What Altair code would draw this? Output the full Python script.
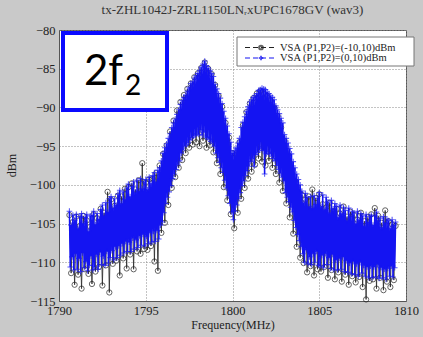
import altair as alt
import pandas as pd

# Frequency sweep grids (MHz)
FREQ_BLUE = [round(1790.6 + 0.05 * i, 2) for i in range(377)]
FREQ_BLACK = [round(1790.6 + 0.1 * i, 1) for i in range(189)]

# Series: VSA (P1,P2)=(0,10)dBm  (blue)
BLUE = [
    -103.4, -110.6, -105.2, -109.3, -103.9, -111.0, -104.6, -108.9,
    -103.8, -110.9, -105.6, -109.5, -104.1, -111.2, -103.7, -108.8, -105.0, -110.7,
    -104.2, -109.9, -103.8, -111.1, -106.0, -110.4, -104.0, -109.2, -103.9, -111.0,
    -103.4, -110.6, -105.1, -109.0, -103.7, -110.9, -104.4, -108.7, -103.2, -110.3,
    -102.6, -109.2, -104.0, -110.4, -102.3, -108.6, -103.5, -110.1, -101.8, -109.4,
    -101.5, -108.5, -103.0, -109.7, -101.8, -108.0, -102.6, -109.4, -101.2, -107.9,
    -100.7, -109.1, -102.4, -107.6, -100.9, -108.8, -101.9, -107.3, -100.4, -108.6,
    -99.9, -107.4, -101.5, -108.6, -100.2, -106.9, -99.6, -108.3, -101.0, -107.1,
    -99.4, -108.1, -100.8, -106.6, -99.2, -107.8, -100.5, -106.4, -99.6, -107.9,
    -99.3, -106.7, -100.6, -107.6, -99.0, -106.2, -99.8, -107.4, -98.8, -106.0,
    -98.4, -107.3, -99.6, -105.9, -98.1, -107.0, -97.8, -105.2, -96.9, -104.8,
    -95.9, -103.6, -95.2, -102.4, -94.7, -101.6, -94.0, -100.9, -93.4, -100.1,
    -92.6, -99.2, -92.0, -98.6, -91.5, -98.0, -90.9, -97.4, -90.3, -96.9,
    -89.6, -95.9, -89.1, -95.5, -88.7, -95.0, -88.4, -94.8, -87.9, -94.6,
    -87.4, -94.2, -86.9, -93.9, -86.7, -93.7, -86.2, -93.6, -85.9, -93.4,
    -85.6, -93.5, -85.2, -92.9, -84.8, -93.6, -84.4, -93.2, -84.0, -93.8,
    -84.6, -93.9, -84.9, -94.1, -85.2, -94.4, -85.6, -94.6, -86.0, -95.0,
    -87.0, -95.9, -87.6, -96.5, -88.2, -97.1, -88.8, -97.8, -89.5, -98.4,
    -90.5, -99.4, -91.4, -100.4, -92.4, -101.4, -93.4, -102.4, -94.5, -103.5,
    -95.9, -104.5, -95.6, -103.4, -95.2, -102.6, -94.6, -101.8, -94.0, -101.0,
    -92.6, -100.1, -91.9, -99.5, -91.2, -98.8, -90.5, -98.2, -89.9, -97.6,
    -89.3, -97.0, -89.0, -96.6, -88.7, -97.6, -88.5, -96.1, -88.2, -95.8,
    -87.8, -95.5, -87.7, -95.3, -87.5, -95.6, -87.6, -98.6, -87.7, -96.0,
    -88.0, -95.8, -88.2, -96.0, -88.5, -96.3, -88.7, -96.6, -89.0, -96.9,
    -89.8, -97.5, -90.3, -98.0, -90.8, -98.5, -91.4, -99.0, -92.0, -99.5,
    -93.5, -101.0, -94.0, -101.6, -94.6, -102.2, -95.3, -102.9, -96.0, -103.5,
    -97.0, -104.6, -97.8, -105.5, -98.6, -106.4, -99.3, -107.2, -100.0, -108.0,
    -100.8, -108.9, -102.3, -110.0, -101.1, -108.4, -101.6, -110.2, -102.8, -109.3,
    -101.5, -110.3, -103.0, -108.9, -101.4, -110.0, -102.5, -108.6, -101.7, -110.4,
    -101.0, -110.5, -102.8, -109.1, -101.3, -110.7, -103.2, -108.9, -101.6, -110.3,
    -102.2, -109.4, -103.6, -110.8, -102.0, -109.0, -103.1, -111.0, -102.4, -109.7,
    -102.8, -111.0, -104.2, -109.5, -102.6, -110.9, -103.7, -109.3, -102.9, -111.2,
    -103.3, -109.8, -104.6, -111.3, -103.0, -110.1, -104.1, -111.5, -103.4, -109.9,
    -103.6, -111.6, -105.0, -110.2, -103.4, -111.8, -104.5, -110.0, -103.7, -111.4,
    -104.0, -110.4, -105.3, -111.8, -103.8, -110.6, -104.8, -112.0, -104.1, -110.5,
    -103.9, -112.0, -105.2, -110.6, -104.0, -111.9, -103.5, -110.3, -104.6, -112.1,
    -104.3, -110.7, -105.5, -112.0, -104.1, -110.9, -104.9, -112.2, -104.4, -110.8,
    -104.6, -111.8, -105.6, -110.5, -104.5, -111.9, -105.2, -110.7, -104.8,
]

# Series: VSA (P1,P2)=(-10,10)dBm  (black)
BLACK = [
    -103.9, -111.4, -104.8, -112.9,
    -104.1, -111.6, -105.3, -113.4, -104.0, -110.9, -104.6, -111.5, -105.4, -112.8,
    -103.8, -111.2, -104.3, -110.6, -103.1, -113.0, -103.6, -110.4, -100.9, -113.9,
    -101.9, -110.2, -102.7, -109.8, -101.4, -111.7, -101.5, -109.5, -100.5, -110.8,
    -100.3, -109.0, -99.8, -110.9, -100.6, -108.6, -99.4, -108.9, -97.2, -108.3,
    -99.7, -108.4, -99.3, -107.9, -99.2, -109.9, -98.5, -111.1, -97.5, -106.2,
    -96.0, -104.9, -94.9, -102.6, -93.1, -100.4, -91.7, -99.0, -90.4, -97.8,
    -89.3, -96.8, -88.4, -95.9, -87.6, -95.2, -86.9, -94.8, -86.1, -94.5,
    -85.6, -95.0, -84.9, -94.3, -84.2, -95.2, -85.0, -94.9, -85.7, -95.8,
    -87.1, -97.2, -88.5, -98.6, -89.9, -100.3, -92.0, -102.0, -93.9, -103.8,
    -95.9, -105.6, -96.1, -103.6, -94.5, -101.8, -92.3, -100.4, -90.6, -99.2,
    -89.5, -98.3, -88.8, -97.4, -88.2, -96.6, -87.9, -97.0, -88.2, -97.5,
    -88.5, -96.9, -89.1, -97.8, -90.0, -98.6, -91.1, -99.7, -92.6, -100.8,
    -94.3, -102.4, -96.1, -104.2, -97.9, -106.3, -99.5, -108.0, -100.7, -109.4,
    -101.3, -110.1, -101.9, -111.3, -101.5, -110.5, -100.6, -111.7, -101.7, -110.9,
    -101.2, -111.2, -102.5, -110.6, -102.9, -112.0, -102.3, -111.0, -103.4, -112.2,
    -103.1, -111.3, -103.7, -112.5, -102.8, -111.6, -104.1, -112.9, -103.5, -111.8,
    -103.9, -112.6, -104.5, -111.9, -103.6, -113.2, -104.7, -114.8, -104.2, -112.4,
    -103.8, -112.2, -103.0, -113.4, -104.0, -112.0, -104.9, -113.6, -103.3, -112.5,
    -104.7, -113.2, -105.1, -112.3, -105.3,
]

X_TICKS = [1790, 1795, 1800, 1805, 1810]
Y_TICKS = [-115, -110, -105, -100, -95, -90, -85, -80]
LEGEND_LABELS = ["VSA  (P1,P2)=(-10,10)dBm", "VSA  (P1,P2)=(0,10)dBm"]
TITLE = "tx-ZHL1042J-ZRL1150LN\u1d63xUPC1678GV (wav3)"

SERIF = "Liberation Serif"
BLUE_C = "#1414f2"

nb = min(len(FREQ_BLUE), len(BLUE))
nk = min(len(FREQ_BLACK), len(BLACK))
df_black = pd.DataFrame({"f": FREQ_BLACK[:nk], "v": BLACK[:nk]})
df_blue = pd.DataFrame({"f": FREQ_BLUE[:nb], "v": BLUE[:nb]})
one = pd.DataFrame({"a": [0]})

xs = alt.Scale(domain=[1790, 1810], nice=False, zero=False)
ys = alt.Scale(domain=[-115, -80], nice=False, zero=False)

xax = alt.Axis(values=X_TICKS, title="Frequency(MHz)", grid=True, gridDash=[1, 2],
               gridColor="#888", ticks=False, labelPadding=3, titlePadding=3,
               format="d", labelFlush=False)
yax = alt.Axis(values=Y_TICKS, title="dBm", grid=True, gridDash=[1, 2],
               gridColor="#888", ticks=False, labelPadding=4, titleX=-41, titleY=135,
               labelFlush=False)

X = alt.X("f:Q", scale=xs, axis=xax)
Y = alt.Y("v:Q", scale=ys, axis=yax)

black_line = alt.Chart(df_black).mark_line(color="#333", strokeWidth=0.9).encode(x=X, y=Y, order="f:Q")
black_pts = alt.Chart(df_black).mark_point(shape="circle", filled=False, color="#222", size=28, strokeWidth=1).encode(x=X, y=Y)
blue_line = alt.Chart(df_blue).mark_line(color=BLUE_C, strokeWidth=1.5).encode(x=X, y=Y, order="f:Q")
blue_pts = alt.Chart(df_blue).mark_point(shape="M-1,0L1,0M0,-1L0,1", filled=False, color=BLUE_C, size=32, strokeWidth=1.1).encode(x=X, y=Y)

# "2f2" annotation box
box = alt.Chart(one).mark_rect(fill="white", stroke="#0a0aff", strokeWidth=4).encode(
    x=alt.value(4), x2=alt.value(108), y=alt.value(3), y2=alt.value(80))
t2f = alt.Chart(one).mark_text(text="2f", font="Lato", fontSize=42, align="left",
                               baseline="alphabetic", color="black").encode(x=alt.value(25), y=alt.value(55))
tsub = alt.Chart(one).mark_text(text="2", font="Lato", fontSize=28, align="left",
                                baseline="alphabetic", color="black").encode(x=alt.value(66), y=alt.value(65))

# legend
leg_box = alt.Chart(one).mark_rect(fill="white", stroke="#777", strokeWidth=1).encode(
    x=alt.value(178), x2=alt.value(355), y=alt.value(7), y2=alt.value(36))
leg_l1 = alt.Chart(one).mark_rule(color="#222", strokeDash=[5, 3], strokeWidth=1.2).encode(
    x=alt.value(186), x2=alt.value(218), y=alt.value(17.5))
leg_p1 = alt.Chart(one).mark_point(shape="circle", filled=False, color="#222", size=14).encode(
    x=alt.value(202), y=alt.value(17.5))
leg_l2 = alt.Chart(one).mark_rule(color=BLUE_C, strokeDash=[5, 3], strokeWidth=1.2).encode(
    x=alt.value(186), x2=alt.value(218), y=alt.value(28))
leg_p2 = alt.Chart(one).mark_point(shape="M-1,0L1,0M0,-1L0,1", filled=False, color=BLUE_C, size=20).encode(
    x=alt.value(202), y=alt.value(28))
leg_t1 = alt.Chart(one).mark_text(text=LEGEND_LABELS[0], font=SERIF, fontSize=10.5, align="left",
                                  baseline="middle", color="#222").encode(x=alt.value(221), y=alt.value(17.5))
leg_t2 = alt.Chart(one).mark_text(text=LEGEND_LABELS[1], font=SERIF, fontSize=10.5, align="left",
                                  baseline="middle", color="#222").encode(x=alt.value(221), y=alt.value(28))

chart = alt.layer(
    black_line, black_pts, blue_line, blue_pts,
    box, t2f, tsub,
    leg_box, leg_l1, leg_p1, leg_l2, leg_p2, leg_t1, leg_t2,
).properties(
    width=347, height=271,
    title=alt.TitleParams(TITLE, font=SERIF, fontSize=13, fontWeight="normal", color="#333", offset=7),
    autosize=alt.AutoSizeParams(type="none"),
    padding={"left": 59, "top": 30, "right": 17, "bottom": 36},
    background="#c9c9c9",
).configure_view(
    fill="white", stroke="#555", strokeWidth=1,
).configure_axis(
    labelFont=SERIF, labelFontSize=12.5, labelColor="#222",
    titleFont=SERIF, titleFontSize=12, titleColor="#222", titleFontWeight="normal",
    domainColor="#555",
)

chart.save("out.html", embed_options={"renderer": "svg", "actions": False})
